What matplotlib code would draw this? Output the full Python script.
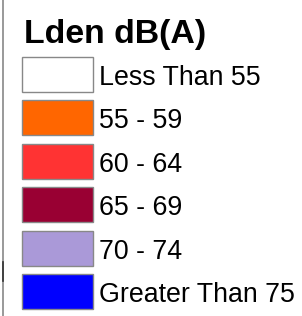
import matplotlib
matplotlib.use("Agg")
import matplotlib.pyplot as plt
from matplotlib.patches import Rectangle

# legend content
title = "Lden dB(A)"
labels = ["Less Than 55", "55 - 59", "60 - 64", "65 - 69", "70 - 74", "Greater Than 75"]
colors = ["#FFFFFF", "#FF6600", "#FF3333", "#990033", "#AA99D8", "#0000FF"]

W, H = 302, 316
fig = plt.figure(figsize=(W / 100, H / 100), dpi=100)
ax = fig.add_axes([0, 0, 1, 1])
ax.set_xlim(0, W)
ax.set_ylim(H, 0)
ax.axis("off")

# left border of the legend panel
ax.plot([2.5, 2.5], [0, H], color="#888888", linewidth=1.2)
ax.plot([2.5, 2.5], [262, 281], color="#333333", linewidth=1.2)

# title
ax.text(24, 43, title, fontsize=24.4, fontweight="bold", family="Liberation Sans",
        va="baseline", ha="left", color="black")

# swatches and labels
top0, pitch = 57, 43.4
for i, (lab, col) in enumerate(zip(labels, colors)):
    y = top0 + i * pitch
    ax.add_patch(Rectangle((22, y), 71, 35, facecolor=col, edgecolor="#888888", linewidth=1))
    ax.text(99, y + 28, lab, fontsize=19.3, family="Liberation Sans",
            va="baseline", ha="left", color="black")

fig.savefig("out.png", dpi=100)
